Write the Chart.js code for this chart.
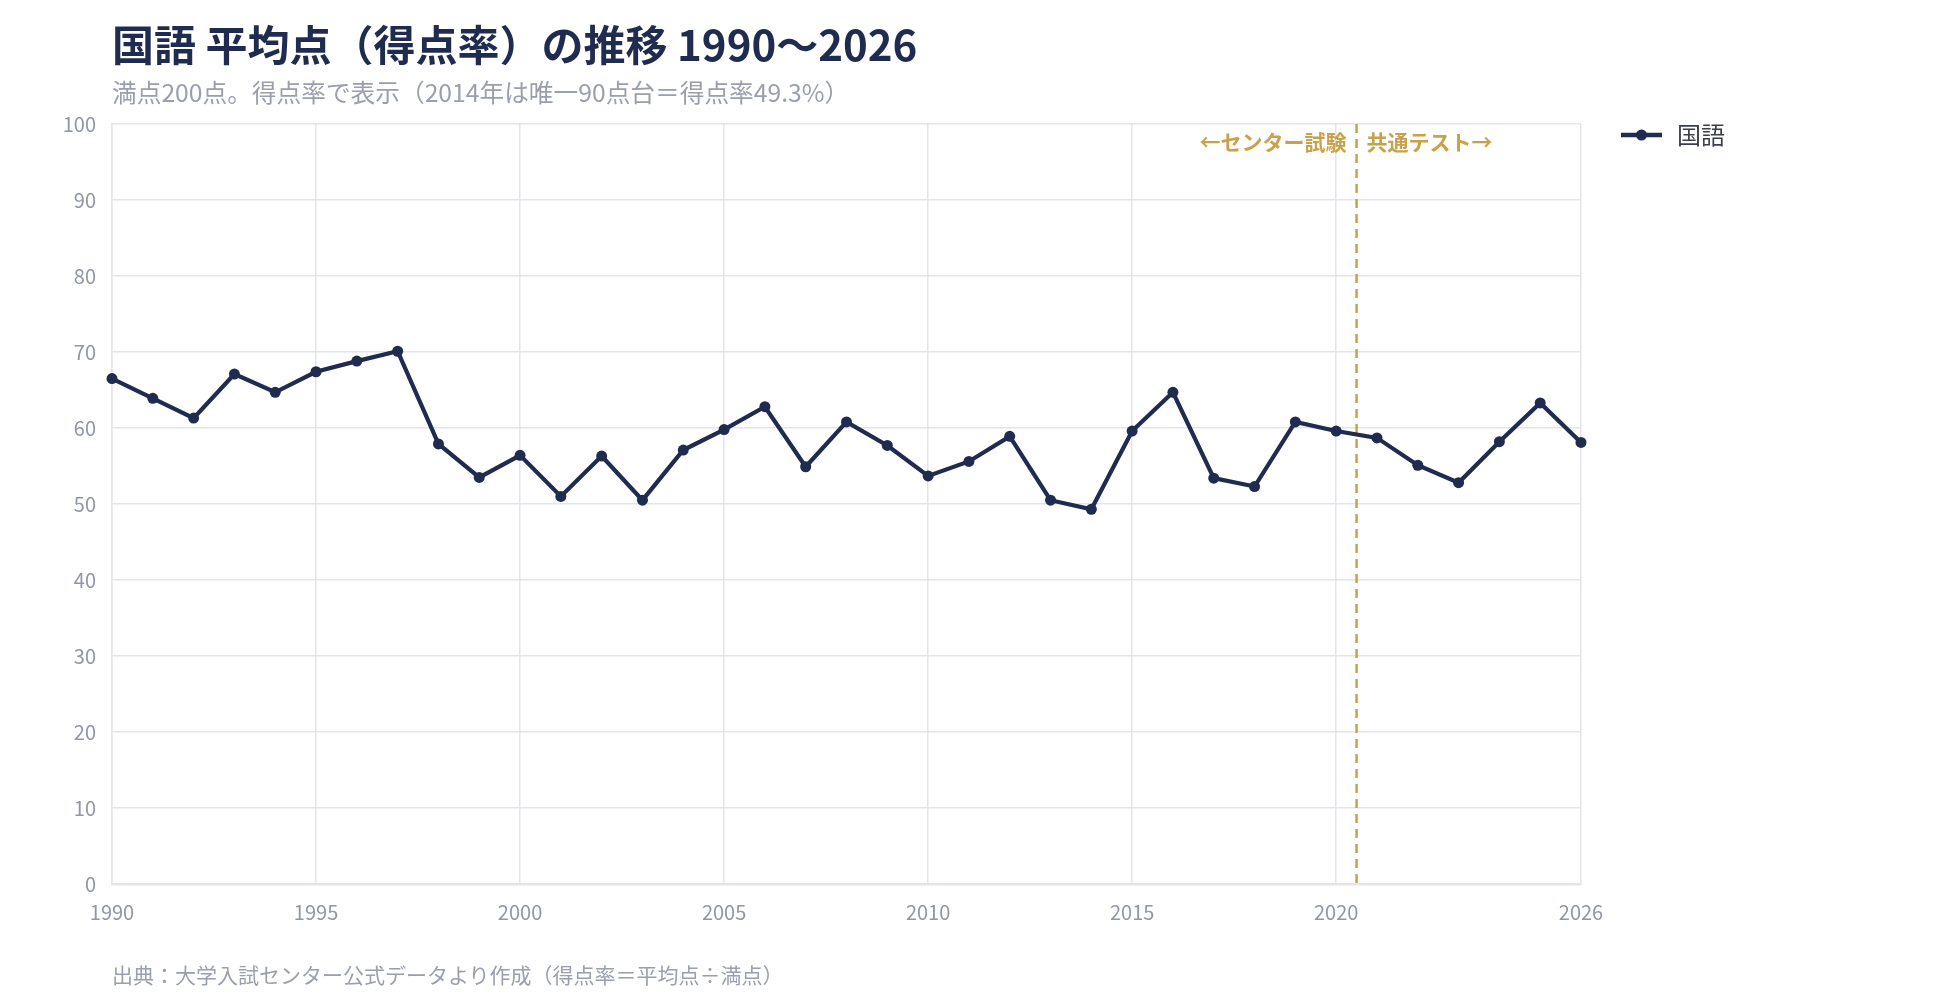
<!DOCTYPE html>
<html>
<head>
<meta charset="utf-8">
<script src="https://cdn.jsdelivr.net/npm/chart.js@4/dist/chart.umd.min.js"></script>
<style>
  body{margin:0;background:#fff;width:1960px;height:1000px;overflow:hidden;font-family:"Noto Sans CJK JP",sans-serif;}
  #wrap{position:relative;width:1960px;height:1000px;}
  canvas{position:absolute;left:0;top:0;}
  .title{position:absolute;left:112px;top:19px;font-size:42px;font-weight:700;color:#1f2b4f;line-height:48px;white-space:nowrap;}
  .sub{position:absolute;left:112px;top:76px;font-size:24.7px;color:#9a9eae;line-height:30px;white-space:nowrap;}
  .foot{position:absolute;left:112px;top:961px;font-size:21px;color:#9a9eae;line-height:26px;white-space:nowrap;}
</style>
</head>
<body>
<div id="wrap">
  <canvas id="myChart" width="1960" height="1000"></canvas>
  <div class="title">国語 平均点（得点率）の推移 1990〜2026</div>
  <div class="sub">満点200点。得点率で表示（2014年は唯一90点台＝得点率49.3%）</div>
  <div class="foot">出典：大学入試センター公式データより作成（得点率＝平均点÷満点）</div>
</div>
<script>
const years=[1990,1991,1992,1993,1994,1995,1996,1997,1998,1999,2000,2001,2002,2003,2004,2005,2006,2007,2008,2009,2010,2011,2012,2013,2014,2015,2016,2017,2018,2019,2020,2021,2022,2023,2024,2025,2026];
const kokugo=[66.5,63.9,61.3,67.1,64.7,67.4,68.8,70.1,57.9,53.5,56.4,51.0,56.3,50.5,57.1,59.8,62.8,54.9,60.8,57.7,53.7,55.6,58.9,50.5,49.3,59.6,64.7,53.4,52.3,60.8,59.6,58.7,55.1,52.8,58.2,63.3,58.1];
const xTicks=[1990,1995,2000,2005,2010,2015,2020,2026];
const changeYear=2020.5;
const leftLabel="←センター試験";
const rightLabel="共通テスト→";
const seriesName="国語";

const navy="#1f2b4f";
const gold="#c9a14a";
const grid="#e4e5eb";
const tickCol="#9096a8";

const points=years.map((y,i)=>({x:y,y:kokugo[i]}));

// dashed divider + labels + legend
const extras={
  id:"extras",
  beforeDatasetsDraw(chart){
    const {ctx,chartArea,scales}=chart;
    const x=scales.x.getPixelForValue(changeYear);
    ctx.save();
    ctx.strokeStyle=gold;
    ctx.lineWidth=2.5;
    ctx.setLineDash([9,6]);
    ctx.beginPath();
    ctx.moveTo(x,chartArea.top);
    ctx.lineTo(x,chartArea.bottom);
    ctx.stroke();
    ctx.restore();
  },
  afterDraw(chart){
    const {ctx,chartArea,scales}=chart;
    const x=scales.x.getPixelForValue(changeYear);
    ctx.save();
    ctx.font="bold 21px 'Noto Sans CJK JP'";
    ctx.fillStyle=gold;
    ctx.textBaseline="middle";
    ctx.textAlign="right";
    ctx.fillText(leftLabel,x-10,chartArea.top+18);
    ctx.textAlign="left";
    ctx.fillText(rightLabel,x+10,chartArea.top+18);

    // legend
    const lx=chartArea.right+40, ly=chartArea.top+11;
    ctx.strokeStyle=navy;
    ctx.lineWidth=4.5;
    ctx.beginPath();
    ctx.moveTo(lx,ly);ctx.lineTo(lx+41,ly);
    ctx.stroke();
    ctx.fillStyle=navy;
    ctx.beginPath();
    ctx.arc(lx+20.5,ly,5.5,0,Math.PI*2);
    ctx.fill();
    ctx.font="24px 'Noto Sans CJK JP'";
    ctx.fillStyle="#3a3f4f";
    ctx.textAlign="left";
    ctx.fillText(seriesName,lx+56,ly);
    ctx.restore();
  }
};

let lineChart=new Chart("myChart",{
  type:"line",
  data:{
    datasets:[{
      label:seriesName,
      data:points,
      borderColor:navy,
      backgroundColor:navy,
      borderWidth:4.2,
      pointRadius:5.5,
      pointBackgroundColor:navy,
      pointBorderWidth:0,
      lineTension:0,
      clip:false
    }]
  },
  options:{
    responsive:false,
    animation:false,
    layout:{padding:{left:0,top:124,right:379,bottom:0}},
    plugins:{
      legend:{display:false},
      title:{display:false},
      tooltip:{enabled:false}
    },
    scales:{
      x:{
        type:"linear",
        min:1990,
        max:2026,
        afterBuildTicks(s){s.ticks=xTicks.map(v=>({value:v}));},
        afterFit(s){s.height=116;},
        grid:{color:grid,lineWidth:1.5,drawTicks:false},
        border:{color:grid,width:2.5},
        ticks:{
          color:tickCol,
          padding:16,
          maxRotation:0,
          font:{family:"'Noto Sans CJK JP'",size:20},
          callback:v=>String(v)
        }
      },
      y:{
        min:0,
        max:100,
        afterFit(s){s.width=112;},
        grid:{color:grid,lineWidth:1.5,drawTicks:false},
        border:{color:grid,width:1.5},
        ticks:{
          stepSize:10,
          color:tickCol,
          padding:16,
          font:{family:"'Noto Sans CJK JP'",size:20}
        }
      }
    }
  },
  plugins:[extras]
});
</script>
</body>
</html>
